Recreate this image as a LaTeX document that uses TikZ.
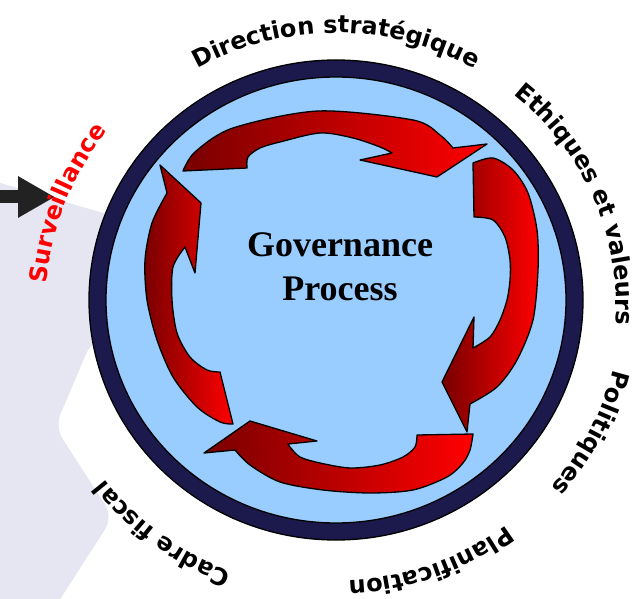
\documentclass[tikz,border=0pt]{standalone}
\usepackage{fontspec}
\setmainfont{Liberation Serif}
\newfontfamily\lblfamily{DejaVu Sans}
\usetikzlibrary{calc, positioning, arrows.meta, decorations.text}

\definecolor{navy}{HTML}{1C1A4C}
\definecolor{skyfill}{HTML}{99CCFF}
\definecolor{lavender}{HTML}{E5E6F2}
\definecolor{darkred}{HTML}{780000}
\definecolor{inkgray}{HTML}{222222}

\newcommand{\lblfont}{\lblfamily\bfseries\fontsize{24}{24}\selectfont}

\tikzset{
  % curved block arrows
  swoosh/.style={draw=black, line width=1.3pt, line join=round,
    left color=darkred, right color=red},
  % labels round the disc
  lbl/.style={decorate, decoration={text along path, text align=center,
      text={|\lblfont|#1}}},
  lblred/.style={lbl=#1, decoration={text color=red}},
  % text in the middle
  title/.style={font=\bfseries\fontsize{36}{43}\selectfont},
}

\begin{document}
\begin{tikzpicture}[x=1pt, y=1pt]
  \useasboundingbox (0,0) rectangle (640,598);
  \coordinate (c) at (336,298);
  \coordinate (tc) at (336,293);

  % watermark
  \fill[lavender, rounded corners=14pt] (-20,421) -- (110,383) -- (240,348)
    -- (240,250) -- (92,258) -- (55,171) -- (113,81) -- (48,-20) -- (-20,-20) -- cycle;

  \coordinate (inleft) at (-5,401);
  \coordinate (intip) at (55,401);
  \draw[inkgray, line width=13pt, -{Triangle[length=37pt, width=39pt]}] (inleft) -- (intip);

  % disc
  \filldraw[fill=navy, draw=black, line width=1.3pt] (c) ellipse [x radius=247, y radius=240];
  \filldraw[fill=skyfill, draw=black, line width=1.3pt] (c) ellipse [x radius=230, y radius=223];

  % top
  \draw[swoosh] plot[smooth] coordinates {(183,427) (195,446) (233,470) (318,487) (413,478) (440,463) (453,450)}
    -- (487,454) -- (437,421) -- (360,438)
    -- plot[smooth] coordinates {(392,445) (380,451) (353,460) (320,465) (280,456) (260,450) (248,441) (247,430)} -- cycle;
  % right
  \draw[swoosh] plot[smooth] coordinates {(473,435) (493,440) (513,428) (528,405) (537,368) (538,328) (533,278) (517,238) (497,211) (470,194)}
    -- (467,166) -- (442,216) -- (474,281)
    -- plot[smooth] coordinates {(473,250) (490,261) (500,278) (507,298) (510,318) (510,338) (505,361) (493,378) (474,381)} -- cycle;
  % bottom
  \draw[swoosh] plot[smooth] coordinates {(473,164) (470,148) (463,135) (447,121) (413,108) (370,105) (323,108) (280,116) (250,133) (235,148)}
    -- (204,145) -- (250,177) -- (317,157)
    -- plot[smooth] coordinates {(288,154) (290,151) (300,141) (320,135) (350,130) (380,133) (403,141) (415,151) (417,163)} -- cycle;
  % left
  \draw[swoosh] plot[smooth] coordinates {(233,174) (220,176) (197,191) (173,221) (157,258) (147,298) (145,338) (152,375) (167,405)}
    -- (160,433) -- (201,395) -- (195,325)
    -- plot[smooth] coordinates {(185,351) (173,331) (172,298) (177,265) (190,241) (207,228) (220,226)} -- cycle;

  \node[title, anchor=base] (gov) at (340,341) {Governance};
  \node[title, anchor=base] (proc) at ([yshift=-43pt]gov.base) {Process};

  \path[lbl={Direction stratégique}] ($(tc)+(130:280 and 272)$) arc[start angle=130, end angle=50, x radius=280, y radius=272];
  \path[lbl={Ethiques et valeurs}] ($(tc)+(73:280 and 272)$) arc[start angle=73, end angle=-27, x radius=280, y radius=272];
  \path[lbl={Politiques}] ($(tc)+(13:285 and 277)$) arc[start angle=13, end angle=-67, x radius=285, y radius=277];
  \path[lbl={Planification}] ($(tc)+(-20:282 and 276)$) arc[start angle=-20, end angle=-120, x radius=282, y radius=276];
  \path[lbl={Cadre fiscal}] ($(tc)+(-77:292 and 286)$) arc[start angle=-77, end angle=-177, x radius=292, y radius=286];
  \path[lblred={Surveillance}] ($(tc)+(209:290 and 282)$) arc[start angle=209, end angle=109, x radius=290, y radius=282];
\end{tikzpicture}
\end{document}
